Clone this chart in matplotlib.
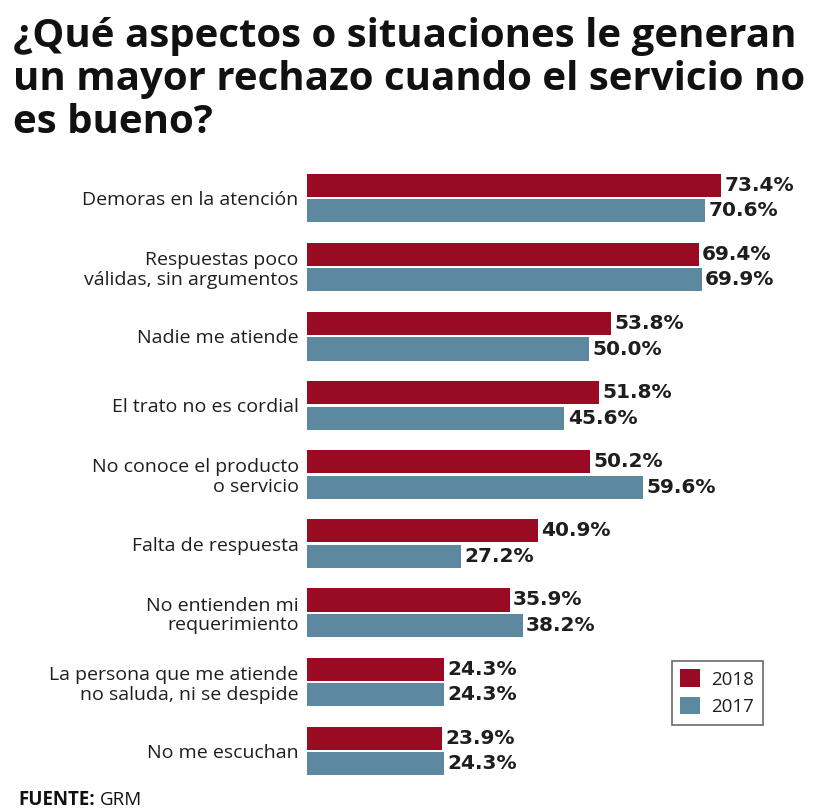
import matplotlib
matplotlib.use("Agg")
import matplotlib.pyplot as plt
from matplotlib.patches import Patch
import numpy as np

plt.rcParams['font.family'] = ['Open Sans', 'DejaVu Sans']

title_lines = [
    "¿Qué aspectos o situaciones le generan",
    "un mayor rechazo cuando el servicio no",
    "es bueno?",
]
categories = [
    "Demoras en la atención",
    "Respuestas poco\nválidas, sin argumentos",
    "Nadie me atiende",
    "El trato no es cordial",
    "No conoce el producto\no servicio",
    "Falta de respuesta",
    "No entienden mi\nrequerimiento",
    "La persona que me atiende\nno saluda, ni se despide",
    "No me escuchan",
]
vals_2018 = [73.4, 69.4, 53.8, 51.8, 50.2, 40.9, 35.9, 24.3, 23.9]
vals_2017 = [70.6, 69.9, 50.0, 45.6, 59.6, 27.2, 38.2, 24.3, 24.3]
years = ["2018", "2017"]

RED = "#990b22"
BLUE = "#5c88a0"
TXT = "#1e1e1e"

W, H = 826, 810
fig = plt.figure(figsize=(W / 100, H / 100), dpi=100)
fig.patch.set_facecolor("white")

# title, one line at a time so the baselines sit where we want them
for i, line in enumerate(title_lines):
    fig.text(13 / W, 1 - (47 + 43 * i) / H, line, ha="left", va="baseline",
             fontsize=29, fontweight="bold", color="#111111")

ax = fig.add_axes([307 / W, 1 - 792.5 / H, 508 / W, 636 / H])
y = np.arange(len(categories))
off = 0.185
h = 0.335
ax.barh(y - off, vals_2018, height=h, color=RED, label=years[0])
ax.barh(y + off, vals_2017, height=h, color=BLUE, label=years[1])

for ys, vals in ((y - off, vals_2018), (y + off, vals_2017)):
    for yi, v in zip(ys, vals):
        ax.text(v + 0.6, yi, f"{v:.1f}%", va="center", ha="left",
                fontsize=14.5, fontweight="bold", color=TXT, family="DejaVu Sans")

ax.set_xlim(0, 90)
ax.set_ylim(8.6, -0.6)
ax.set_yticks(y)
ax.set_yticklabels(categories, fontsize=14, color=TXT, linespacing=1.12)
ax.tick_params(axis="y", length=0, pad=6)
ax.set_xticks([])
for s in ax.spines.values():
    s.set_visible(False)

handles = [Patch(facecolor=RED, label=years[0]), Patch(facecolor=BLUE, label=years[1])]
leg = ax.legend(handles=handles, loc="upper left",
                bbox_to_anchor=((672 - 307) / 508, (792.5 - 661) / 636),
                borderaxespad=0, frameon=True, fancybox=False, edgecolor="#444444",
                fontsize=13.5, handlelength=1.05, handleheight=1.05,
                handletextpad=0.6, borderpad=0.45, labelspacing=0.45)
leg.get_frame().set_linewidth(1.2)
for t in leg.get_texts():
    t.set_color(TXT)

src = fig.text(18 / W, 1 - 805 / H, "FUENTE:", ha="left", va="baseline",
               fontsize=13.5, fontweight="bold", color="#111111")
fig.canvas.draw()
bb = src.get_window_extent()
fig.text((bb.x1 + 5) / W, 1 - 805 / H, "GRM", ha="left", va="baseline",
         fontsize=13.5, color="#111111")

fig.savefig("out.png", dpi=100, facecolor="white")
